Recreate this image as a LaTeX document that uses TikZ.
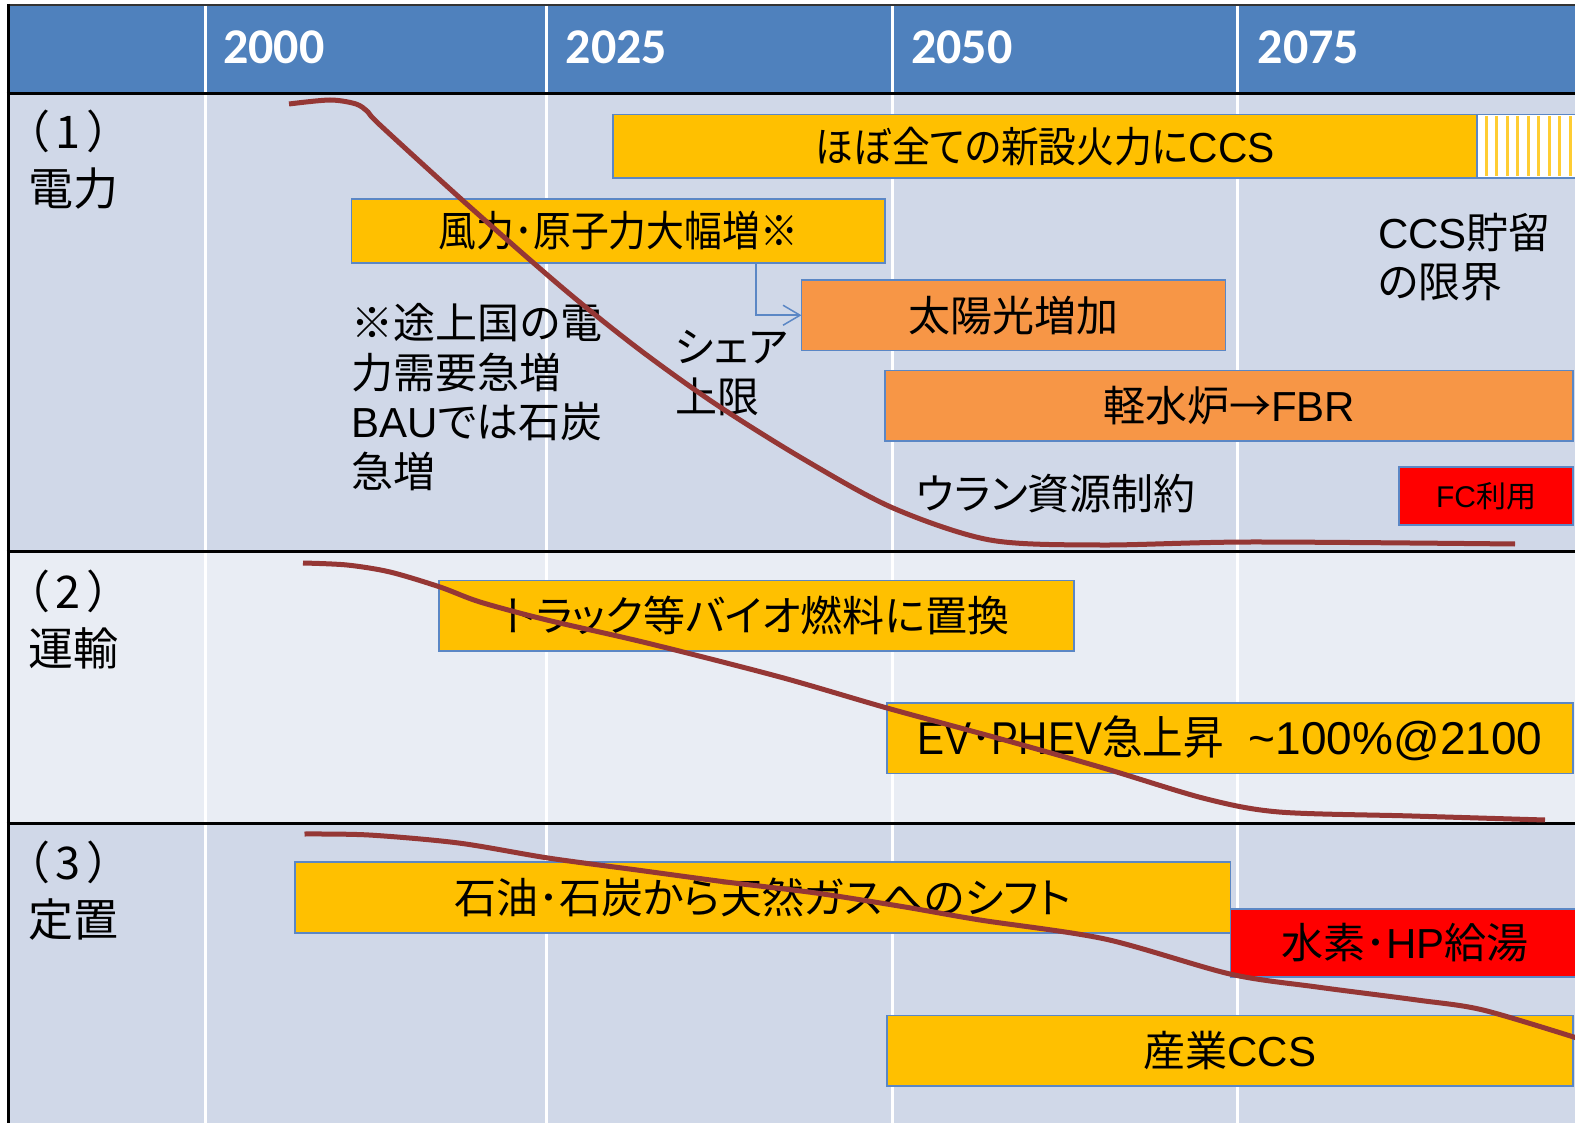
\documentclass[tikz,border=0pt]{standalone}
\usepackage{graphicx}
\usepackage{fontspec}
\setmainfont{Liberation Sans}
\newfontfamily\jpfont[RawFeature=+palt]{Noto Sans CJK JP}
\newfontfamily\jpfull{Noto Sans CJK JP}
\newfontfamily\yearfont{Carlito}
\usetikzlibrary{arrows.meta}
\newcommand\J[1]{{\jpfont #1}}
\newcommand\rowtag[1]{\hspace*{-0.5em}{\jpfull （\kern0.1em#1\kern0.15em）}}
\definecolor{hdr}{RGB}{79,129,189}
\definecolor{rowA}{RGB}{208,216,232}
\definecolor{rowB}{RGB}{233,237,244}
\definecolor{gold}{RGB}{255,192,0}
\definecolor{orng}{RGB}{247,150,70}
\definecolor{rd}{RGB}{255,0,0}
\definecolor{edge}{RGB}{91,135,197}
\definecolor{trend}{RGB}{149,55,53}
\definecolor{stripe}{RGB}{255,205,50}
\begin{document}
\begin{tikzpicture}[x=1pt,y=-1pt,
  bar/.style={draw=edge, line width=1.5pt, inner sep=0pt, outer sep=0pt, text=black,
    font=\fontsize{42}{50}\selectfont, align=center},
  note/.style={font=\fontsize{42}{49.5}\selectfont, align=left, inner sep=0pt, anchor=west, text=black},
  rowlabel/.style={font=\fontsize{45}{57}\selectfont, align=left, inner sep=0pt, anchor=west, text=black},
  year/.style={font=\yearfont\bfseries\fontsize{50}{56}\selectfont, text=white, inner sep=0pt, anchor=west},
  trendline/.style={draw=trend, line width=5pt},
  flow/.style={draw=edge, line width=1.5pt, -{Straight Barb[length=17pt,width=20pt,line width=1.5pt]}},
  gridline/.style={draw=white, line width=3pt},
  rule/.style={draw=black, line width=3pt}]
\useasboundingbox (0,0) rectangle (1575,1123);
\clip (0,0) rectangle (1575,1123);
\fill[white] (0,0) rectangle (1575,1123);
% backgrounds
\fill[hdr] (8,5) rectangle (1580,93.4);
\fill[rowA] (8,93.4) rectangle (1580,551.5);
\fill[rowB] (8,551.5) rectangle (1580,823.7);
\fill[rowA] (8,823.7) rectangle (1580,1130);
% white column lines
\foreach \gx in {205,546.5,892,1237.5}
  \draw[gridline] (\gx,5) -- (\gx,1130);
% black rules
\draw[draw=black!80, line width=2pt] (7,5) -- (1580,5);
\draw[rule] (8,4) -- (8,1130);
\draw[rule] (6.5,93.4) -- (1580,93.4);
\draw[rule] (6.5,551.5) -- (1580,551.5);
\draw[rule] (6.5,823.7) -- (1580,823.7);
% years
\node[year] (y2000) at (223,47) {2000};
\node[year] (y2025) at (565.5,47) {2025};
\node[year] (y2050) at (911,47) {2050};
\node[year] (y2075) at (1257.5,47) {2075};
% row labels
\node[rowlabel] (r1) at (28,159.3) {\rowtag{1}\\\J{電力}};
\node[rowlabel] (r2) at (28,619.3) {\rowtag{2}\\\J{運輸}};
\node[rowlabel] (r3) at (28,890.5) {\rowtag{3}\\\J{定置}};
% row 1 bars
\node[bar, fill=gold, minimum width=864pt, minimum height=63.5pt] (ccsnew) at (1045,146.25) {\scalebox{0.9}[1]{\J{ほぼ全ての新設火力に}}\scalebox{0.97}[1]{CCS}};
\node[bar, fill=white, minimum width=103pt, minimum height=63.5pt] (hatch) at (1528.5,146.25) {};
\foreach \k in {0,...,9}
  \draw[stripe, line width=3pt] (1486+\k*10.5,116) -- (1486+\k*10.5,176.5);
\draw[edge, line width=1.5pt] (1477,114.5) rectangle (1580,178);
\node[bar, fill=gold, minimum width=533.5pt, minimum height=64pt] (wind) at (618.25,231) {\scalebox{0.9}[1]{\J{風力･原子力大幅増※}}};
\node[bar, fill=orng, minimum width=424pt, minimum height=70.5pt] (solar) at (1013.5,315.25) {\J{太陽光増加}};
\node[bar, fill=orng, minimum width=688pt, minimum height=70.5pt] (lwr) at (1229,405.75) {\J{軽水炉→}FBR};
\node[bar, fill=rd, minimum width=174pt, minimum height=58pt, font=\fontsize{30}{36}\selectfont] (fc) at (1486,496) {FC\J{利用}};
\coordinate (bend) at (756,315.25);
\draw[flow] (wind.south -| bend) |- (solar.west);
% row 1 notes
\node[note] (ccslim) at (1378,257) {CCS\J{貯留}\\\J{の限界}};
\node[note] (devnote) at (351.5,397) {\J{※途上国の電}\\\J{力需要急増}\\BAU\J{では石炭}\\\J{急増}};
\node[note] (share) at (675,373) {\J{シェア}\\\J{上限}};
\node[note] (uran) at (916,494) {\J{ウラン資源制約}};
% row 2 bars
\node[bar, fill=gold, minimum width=635pt, minimum height=70.5pt] (truck) at (756.5,615.75) {\J{トラック等バイオ燃料に置換}};
\node[bar, fill=gold, minimum width=686pt, minimum height=70.5pt] (ev) at (1230,738.25)
  {\fontsize{46}{52}\selectfont\scalebox{0.88}[1]{EV\J{･}PHEV\J{急上昇}}\hspace{0.55em}\textasciitilde100\%@2100};
% row 3 bars
\node[bar, fill=gold, minimum width=935.5pt, minimum height=71pt] (oil) at (762.75,897.5) {\J{石油･石炭から天然ガスへのシフト}};
\node[bar, fill=rd, minimum width=349.5pt, minimum height=68pt] (h2) at (1405.25,943) {\J{水素･}HP\J{給湯}};
\node[bar, fill=gold, minimum width=686pt, minimum height=70.5pt] (ind) at (1230,1050.75) {\J{産業}CCS};
% trend curves
\draw[trendline] plot[smooth, tension=0.5] coordinates {(289,104) (330,100) (356,104) (368,112) (380,125) (470,207) (565,290) (640,350) (717,405) (805,460) (893,508) (990,540) (1100,545) (1250,542) (1515,544)};
\draw[trendline] plot[smooth, tension=0.5] coordinates {(303,563) (347,565) (390,572) (440,587) (480,602) (547,620) (647,643) (780,677) (887,708) (1004.5,740) (1105,768.5) (1205,798.6) (1279,812) (1412,816) (1545,820)};
\draw[trendline] plot[smooth, tension=0.5] coordinates {(304.5,834) (369,835) (458.6,843) (548,858) (637,870) (726,882) (816,893) (905,907) (980,920) (1105,939) (1230,974) (1317,987) (1417,1000) (1483,1010) (1580,1039)};
\end{tikzpicture}
\end{document}
